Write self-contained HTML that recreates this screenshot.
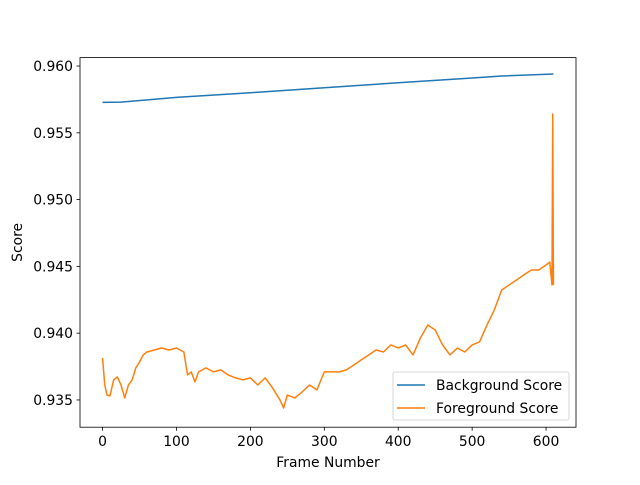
<!DOCTYPE html>
<html><head><meta charset="utf-8"><style>
body{margin:0;background:#fff;}
svg text{font-family:"DejaVu Sans","Liberation Sans",sans-serif;}
</style></head><body>
<svg id="chart" width="640" height="480" xmlns="http://www.w3.org/2000/svg">
<rect width="640" height="480" fill="#fff"/>
<g id="plot"></g>
</svg>
<script>
const bgFrames=[0,25,100,200,300,400,500,540,610];
const bgValues=[0.95728,0.95730,0.95765,0.95800,0.95837,0.95875,0.95910,0.95925,0.95940];
const fgFrames=[0,3,6,10,15,20,25,30,35,40,45,50,55,60,70,80,90,100,110,115,120,125,130,140,150,160,170,180,190,200,210,220,230,240,245,250,260,270,280,290,300,310,320,330,340,350,360,370,380,390,400,410,420,430,440,450,460,470,480,490,500,510,520,530,540,550,560,570,580,590,600,605,608,609,610];
const fgValues=[0.93814,0.93612,0.93537,0.93530,0.93650,0.93672,0.93612,0.93515,0.93612,0.93650,0.93740,0.93784,0.93837,0.93859,0.93874,0.93889,0.93874,0.93889,0.93859,0.93687,0.93710,0.93635,0.93710,0.93740,0.93710,0.93725,0.93687,0.93665,0.93650,0.93665,0.93612,0.93665,0.93590,0.93500,0.93440,0.93537,0.93515,0.93560,0.93612,0.93575,0.93710,0.93710,0.93710,0.93725,0.93762,0.93800,0.93837,0.93874,0.93859,0.93912,0.93889,0.93912,0.93837,0.93964,0.94061,0.94024,0.93912,0.93837,0.93889,0.93859,0.93912,0.93934,0.94061,0.94174,0.94323,0.94361,0.94398,0.94436,0.94473,0.94473,0.94510,0.94533,0.94361,0.95641,0.94361];
const xTicks=[0,100,200,300,400,500,600];
const yTicks=[0.935,0.940,0.945,0.950,0.955,0.960];
const yTickLabels=["0.935","0.940","0.945","0.950","0.955","0.960"];

const L=80,R=576,T=57.6,B=427.2;
const xMin=-30.5,xMax=640.5,yMin=0.93296,yMax=0.96063;
const sx=v=>L+(v-xMin)/(xMax-xMin)*(R-L);
const sy=v=>B-(v-yMin)/(yMax-yMin)*(B-T);
const NS="http://www.w3.org/2000/svg";
const g=document.getElementById('plot');
function mk(tag,attrs,parent){const e=document.createElementNS(NS,tag);for(const k in attrs)e.setAttribute(k,attrs[k]);(parent||g).appendChild(e);return e;}

function line(xs,ys,color,name){
  const d=xs.map((x,i)=>(i?'L':'M')+sx(x).toFixed(2)+','+sy(ys[i]).toFixed(2)).join(' ');
  const p=mk('path',{d:d,fill:'none',stroke:color,'stroke-width':1.5,'stroke-linejoin':'round'});
  
  
}
line(bgFrames,bgValues,'#1f77b4','background-score-line');
line(fgFrames,fgValues,'#ff7f0e','foreground-score-line');

const frame=mk('rect',{x:L,y:T,width:R-L,height:B-T,fill:'none',stroke:'#000','stroke-width':0.8});



const FS=13.9;
xTicks.forEach(t=>{
  const x=sx(t);
  mk('line',{x1:x,y1:B,x2:x,y2:B+3.5,stroke:'#000','stroke-width':0.8});
  const tx=mk('text',{x:x,y:B+19,'font-size':FS,'text-anchor':'middle',fill:'#000'});
  tx.textContent=t;
  
  
});
yTicks.forEach((t,i)=>{
  const y=sy(t);
  mk('line',{x1:L,y1:y,x2:L-3.5,y2:y,stroke:'#000','stroke-width':0.8});
  const tx=mk('text',{x:L-7,y:y+5,'font-size':FS,'text-anchor':'end',fill:'#000'});
  tx.textContent=yTickLabels[i];
  
  
});
const xt=mk('text',{x:(L+R)/2,y:467,'font-size':FS,'text-anchor':'middle'});
xt.textContent='Frame Number';


const yc=(T+B)/2;
const yt=mk('text',{x:22,y:yc,'font-size':FS,'text-anchor':'middle',transform:'rotate(-90 22 '+yc+')'});
yt.textContent='Score';



const lg=mk('g',{});


mk('rect',{x:393,y:372,width:176,height:48,rx:2,fill:'#fff','fill-opacity':0.8,stroke:'#ccc','stroke-width':0.8},lg);
[['Background Score','#1f77b4',385],['Foreground Score','#ff7f0e',408]].forEach(([lab,c,y])=>{
  const e=mk('g',{},lg);
  
  
  mk('line',{x1:397,y1:y,x2:425,y2:y,stroke:c,'stroke-width':1.5},e);
  const t=mk('text',{x:436,y:y+5,'font-size':FS},e);
  t.textContent=lab;
});
</script>
</body></html>
